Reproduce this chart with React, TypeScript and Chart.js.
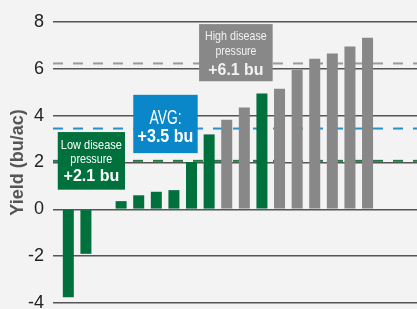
import React, { useEffect, useRef } from "react";
import { Chart, registerables } from "chart.js";

Chart.register(...registerables);

// ---- data ----
const categories = ["1", "2", "3", "4", "5", "6", "7", "8", "9", "10", "11", "12", "13", "14", "15", "16", "17", "18"];
const yieldGain: (number | null)[] = [-3.75, -1.9, null, 0.35, 0.6, 0.75, 0.82, 2.02, 3.2, 3.83, 4.35, 4.95, 5.15, 5.95, 6.43, 6.65, 6.95, 7.33];
const pressure: (string | null)[] = ["low", "low", null, "low", "low", "low", "low", "low", "low", "high", "high", "low", "high", "high", "high", "high", "high", "high"];
const yTicks = [-4, -2, 0, 2, 4, 6, 8];
const avgLowValue = 2.07;
const avgAllValue = 3.45;
const avgHighValue = 6.23;
const lowLabel = ["Low disease", "pressure", "+2.1 bu"];
const avgLabel = ["AVG:", "+3.5 bu"];
const highLabel = ["High disease", "pressure", "+6.1 bu"];

// ---- styles ----
const GREEN = "#00703c";
const GRAY = "#888888";
const BLUE = "#0a87c8";
const FONT = "'Liberation Sans', Arial, Helvetica, sans-serif";
const X_MIN = -0.87;
const X_MAX = 19.81;

type Box = {
  xMin: number; xMax: number; yMin: number; yMax: number; color: string; textColor: string;
  lines: { text: string; dy: number; size: number; bold: boolean; width: number }[];
};

const boxes: Box[] = [
  {
    xMin: -0.6, xMax: 3.22, yMin: 0.84, yMax: 3.3, color: GREEN, textColor: "#ffffff",
    lines: [
      { text: lowLabel[0], dy: 16.7, size: 13, bold: false, width: 61 },
      { text: lowLabel[1], dy: 31.3, size: 13, bold: false, width: 42 },
      { text: lowLabel[2], dy: 49.3, size: 17, bold: true, width: 55.7 },
    ],
  },
  {
    xMin: 3.69, xMax: 7.35, yMin: 2.4, yMax: 4.89, color: BLUE, textColor: "#ffffff",
    lines: [
      { text: avgLabel[0], dy: 29, size: 20, bold: false, width: 32 },
      { text: avgLabel[1], dy: 47.3, size: 18, bold: true, width: 55.7 },
    ],
  },
  {
    xMin: 7.43, xMax: 11.61, yMin: 5.47, yMax: 7.91, color: GRAY, textColor: "#f2f2f2",
    lines: [
      { text: highLabel[0], dy: 15.7, size: 13, bold: false, width: 61.7 },
      { text: highLabel[1], dy: 31.3, size: 13, bold: false, width: 41 },
      { text: highLabel[2], dy: 50.7, size: 17, bold: true, width: 55.3 },
    ],
  },
];

const bgPlugin = {
  id: "bg",
  beforeDraw(chart: any) {
    const ctx = chart.ctx;
    ctx.save();
    ctx.fillStyle = "#f3f3f3";
    ctx.fillRect(0, 0, chart.width, chart.height);
    ctx.restore();
  },
};

const boxPlugin = {
  id: "boxes",
  afterDatasetsDraw(chart: any) {
    const ctx = chart.ctx;
    const xs = chart.scales.x;
    const ys = chart.scales.y;
    boxes.forEach((b) => {
      const l = xs.getPixelForValue(b.xMin);
      const r = xs.getPixelForValue(b.xMax);
      const t = ys.getPixelForValue(b.yMax);
      const btm = ys.getPixelForValue(b.yMin);
      ctx.save();
      ctx.fillStyle = b.color;
      ctx.fillRect(l, t, r - l, btm - t);
      const cx = (l + r) / 2;
      b.lines.forEach((ln) => {
        ctx.font = `${ln.bold ? "bold " : ""}${ln.size}px ${FONT}`;
        const w = ctx.measureText(ln.text).width;
        const s = ln.width / w;
        ctx.save();
        ctx.translate(cx, t + ln.dy);
        ctx.scale(s, 1);
        ctx.fillStyle = b.textColor;
        ctx.textAlign = "center";
        ctx.textBaseline = "alphabetic";
        ctx.fillText(ln.text, 0, 0);
        ctx.restore();
      });
      ctx.restore();
    });
  },
};

function avgLine(value: number, color: string) {
  return {
    type: "line" as const,
    data: [
      { x: X_MIN, y: value },
      { x: X_MAX, y: value },
    ],
    borderColor: color,
    borderWidth: 2,
    borderDash: [10, 10],
    pointRadius: 0,
    order: 2,
  };
}

export default function App() {
  const ref = useRef<HTMLCanvasElement>(null);

  useEffect(() => {
    if (!ref.current) return;
    const points: { x: number; y: number }[] = [];
    const colors: string[] = [];
    categories.forEach((_, i) => {
      const v = yieldGain[i];
      if (v === null) return;
      points.push({ x: i, y: v });
      colors.push(pressure[i] === "high" ? GRAY : GREEN);
    });

    const chart = new Chart(ref.current, {
      type: "bar",
      data: {
        datasets: [
          {
            type: "bar",
            data: points as any,
            backgroundColor: colors,
            barPercentage: 0.625,
            categoryPercentage: 1,
            order: 1,
          } as any,
          avgLine(avgHighValue, "#9a9a9a") as any,
          avgLine(avgAllValue, "#2a8fcf") as any,
          avgLine(avgLowValue, "#1f7a45") as any,
        ],
      },
      options: {
        responsive: false,
        animation: false,
        layout: { padding: { top: 22, bottom: 6, left: 0, right: 0 } },
        plugins: { legend: { display: false }, tooltip: { enabled: false } },
        scales: {
          x: {
            type: "linear",
            offset: false,
            min: X_MIN,
            max: X_MAX,
            display: false,
          },
          y: {
            min: yTicks[0],
            max: yTicks[yTicks.length - 1],
            afterBuildTicks(scale: any) {
              scale.ticks = yTicks.map((v) => ({ value: v }));
            },
            ticks: {
              color: "#222222",
              font: { family: FONT, size: 18 },
              padding: 9,
            },
            grid: { color: "#555555", lineWidth: 1.5, drawTicks: false },
            border: { display: false },
            title: {
              display: true,
              text: "Yield (bu/ac)",
              color: "#555555",
              font: { family: FONT, size: 18, weight: "bold" },
              padding: { top: 7, bottom: 0 },
            },
            afterFit(scale: any) {
              scale.width = 53;
              scale.paddingTop = 0;
              scale.paddingBottom = 0;
            },
          } as any,
        },
      },
      plugins: [bgPlugin, boxPlugin],
    });
    return () => chart.destroy();
  }, []);

  return (
    <div style={{ position: "fixed", left: 0, top: 0, width: 417, height: 309, background: "#f3f3f3" }}>
      <canvas ref={ref} width={417} height={309} />
    </div>
  );
}
